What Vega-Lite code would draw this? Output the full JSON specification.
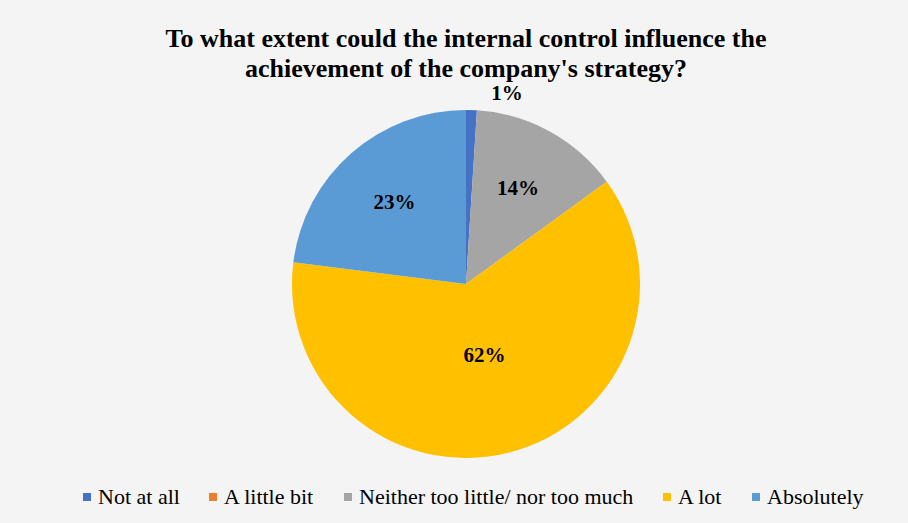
{
  "$schema": "https://vega.github.io/schema/vega-lite/v6.json",
  "autosize": "none",
  "width": 884,
  "height": 478,
  "padding": {"left": 24, "top": 45, "right": 0, "bottom": 0},
  "background": "#f4f4f4",
  "view": {"stroke": null},
  "config": {
    "legend": {"labelFont": "Liberation Serif", "labelFontSize": 22, "labelColor": "#000000"}
  },
  "title": {
    "text": ["To what extent could the internal control influence the", "achievement of the company's strategy?"],
    "font": "Liberation Serif",
    "fontSize": 26,
    "fontWeight": "bold",
    "color": "#000000",
    "anchor": "middle",
    "frame": "group",
    "baseline": "alphabetic",
    "lineHeight": 30,
    "offset": -58
  },
  "data": {
    "values": [
      {"cat": "Not at all", "pct": 1, "ord": 1, "label": "1%"},
      {"cat": "A little bit", "pct": 0, "ord": 2, "label": "0%"},
      {"cat": "Neither too little/ nor too much", "pct": 14, "ord": 3, "label": "14%"},
      {"cat": "A lot", "pct": 62, "ord": 4, "label": "62%"},
      {"cat": "Absolutely", "pct": 23, "ord": 5, "label": "23%"}
    ]
  },
  "encoding": {
    "theta": {"field": "pct", "type": "quantitative", "stack": true},
    "order": {"field": "ord", "type": "quantitative"}
  },
  "layer": [
    {
      "mark": {"type": "arc", "outerRadius": 174},
      "encoding": {
        "color": {
          "field": "cat",
          "type": "nominal",
          "sort": null,
          "scale": {
            "domain": ["Not at all", "A little bit", "Neither too little/ nor too much", "A lot", "Absolutely"],
            "range": ["#4472C4", "#ED7D31", "#A5A5A5", "#FFC000", "#5B9BD5"]
          },
          "legend": {
            "orient": "none",
            "direction": "horizontal",
            "legendX": 52,
            "legendY": 441,
            "title": null,
            "symbolType": "square",
            "symbolSize": 64,
            "symbolStrokeWidth": 0,
            "labelFont": "Liberation Serif",
            "labelFontSize": 22,
            "labelColor": "#000000",
            "labelOffset": 0,
            "labelLimit": 0,
            "columnPadding": 22,
            "padding": 0
          }
        }
      }
    },
    {
      "mark": {"type": "text", "radius": 108, "font": "Liberation Serif", "fontSize": 21, "fontWeight": "bold", "color": "#000000"},
      "encoding": {
        "text": {"field": "label"},
        "opacity": {"condition": {"test": "datum.cat === 'Neither too little/ nor too much' || datum.cat === 'Absolutely'", "value": 1}, "value": 0}
      }
    },
    {
      "mark": {"type": "text", "radius": 74, "font": "Liberation Serif", "fontSize": 21, "fontWeight": "bold", "color": "#000000"},
      "encoding": {
        "text": {"field": "label"},
        "opacity": {"condition": {"test": "datum.cat === 'A lot'", "value": 1}, "value": 0}
      }
    },
    {
      "mark": {"type": "text", "radius": 190, "dx": 35, "font": "Liberation Serif", "fontSize": 21, "fontWeight": "bold", "color": "#000000"},
      "encoding": {
        "text": {"field": "label"},
        "opacity": {"condition": {"test": "datum.cat === 'Not at all'", "value": 1}, "value": 0}
      }
    }
  ]
}
